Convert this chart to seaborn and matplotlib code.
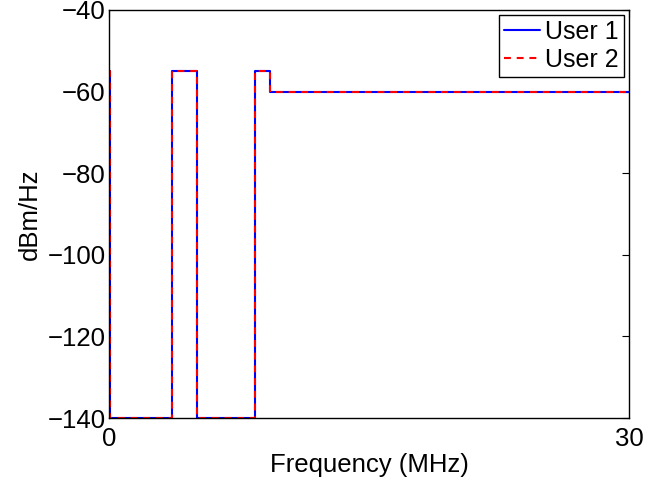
import matplotlib
matplotlib.use("Agg")
import matplotlib.pyplot as plt
import seaborn as sns
import pandas as pd

# Step breakpoints (MHz) and PSD levels (dBm/Hz), steps-post
freq_mhz = [0, 0.06, 3.65, 5.1, 8.4, 9.3, 30]
user1_psd = [-55, -140, -55, -140, -55, -60, -60]
user2_psd = [-55, -140, -55, -140, -55, -60, -60]
series = ["User 1", "User 2"]
x_ticks = [0, 30]
y_ticks = [-140, -120, -100, -80, -60, -40]

sns.set_theme(style="white")
plt.rcParams["font.family"] = ["Liberation Sans", "DejaVu Sans"]
plt.rcParams["text.color"] = "black"
plt.rcParams["axes.labelcolor"] = "black"

df = pd.concat([
    pd.DataFrame({"f": freq_mhz, "psd": user1_psd, "user": series[0]}),
    pd.DataFrame({"f": freq_mhz, "psd": user2_psd, "user": series[1]}),
])

fig = plt.figure(figsize=(6.67, 4.8), dpi=100)
ax = fig.add_axes([109 / 667, 62 / 480, 520 / 667, 408 / 480])

sns.lineplot(data=df, x="f", y="psd", hue="user", style="user",
             palette={"User 1": "#0000ff", "User 2": "#ff0000"},
             dashes={"User 1": "", "User 2": (3.3, 2.8)},
             estimator=None, sort=False, drawstyle="steps-post",
             linewidth=1.5, ax=ax)

ax.set_xlim(0, 30)
ax.set_ylim(-140, -40)
ax.set_xticks(x_ticks)
ax.set_yticks(y_ticks)
ax.set_yticklabels([f"\u2212{abs(v)}" for v in y_ticks])
ax.set_xlabel("Frequency (MHz)", fontsize=18.5, labelpad=1.5, color="black")
ax.set_ylabel("dBm/Hz", fontsize=18.5, labelpad=4, color="black")
ax.tick_params(direction="in", length=5, width=0.8, colors="black",
               labelsize=18.5, top=True, right=True)
ax.tick_params(axis="y", pad=2.5)
ax.tick_params(axis="x", pad=6.5)
for s in ax.spines.values():
    s.set_color("black")
    s.set_linewidth(1.0)

leg = ax.legend(loc="upper right", fontsize=18, frameon=True, fancybox=False,
                borderaxespad=0.2, handlelength=1.45, handletextpad=0.2,
                borderpad=0.2, labelspacing=0.15, title=None)
leg.get_frame().set_edgecolor("black")
leg.get_frame().set_linewidth(1.0)
leg.get_frame().set_alpha(1)
for t in leg.get_texts():
    t.set_color("black")

fig.savefig("out.png", dpi=100)
